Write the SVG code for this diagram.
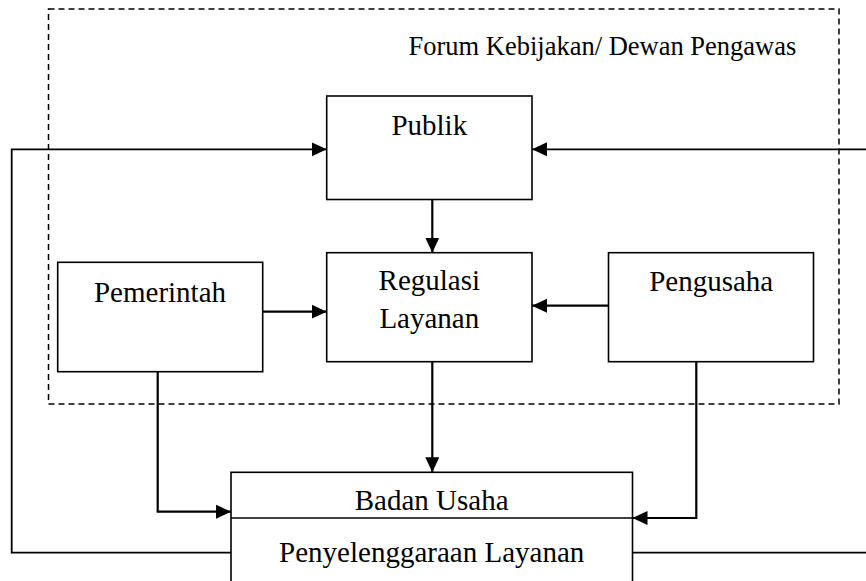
<svg xmlns="http://www.w3.org/2000/svg" width="866" height="581" viewBox="0 0 866 581">
<style>
.box{fill:#fff;stroke:#000;stroke-width:1.6}
.t{font-family:"Liberation Serif","Times New Roman",serif;font-size:29px;fill:#000;text-anchor:middle}
.conn{fill:none;stroke:#000;stroke-width:2.2}
.fb{fill:none;stroke:#000;stroke-width:1.8}
</style>
<defs>
<marker id="ah" markerUnits="userSpaceOnUse" markerWidth="16" markerHeight="16" viewBox="0 0 16 16" refX="15" refY="8" orient="auto">
<path d="M0,1 L15,8 L0,15 Z" fill="#000"/>
</marker>
</defs>
<rect width="866" height="581" fill="#fff"/>
<g id="forum">
<rect x="48.5" y="9" width="790.5" height="395" fill="none" stroke="#000" stroke-width="1.5" stroke-dasharray="6,4"/>
<text x="408.5" y="55" style="font-family:'Liberation Serif','Times New Roman',serif;font-size:26.5px;fill:#000">Forum Kebijakan/ Dewan Pengawas</text>
</g>
<g id="connectors">
<path class="conn" d="M432.3,199.5 V252.7" marker-end="url(#ah)"/>
<path class="conn" d="M262.7,311.7 H326.7" marker-end="url(#ah)"/>
<path class="conn" d="M608.5,305.7 H532" marker-end="url(#ah)"/>
<path class="conn" d="M432.3,361.7 V472.3" marker-end="url(#ah)"/>
<path class="conn" d="M157.7,371.7 V511.7 H231" marker-end="url(#ah)"/>
<path class="conn" d="M696.3,361.7 V518 H632.5" marker-end="url(#ah)"/>
<path class="fb" d="M231,552.7 H11.7 V149.3 H326.7" marker-end="url(#ah)"/>
<path class="fb" d="M866,149.3 H532" marker-end="url(#ah)"/>
<path class="fb" d="M632.5,552.7 H866"/>
</g>
<g id="publik">
<rect class="box" x="326.7" y="96" width="205.3" height="103.5"/>
<text class="t" x="429.3" y="135">Publik</text>
</g>
<g id="pemerintah">
<rect class="box" x="57.7" y="262.3" width="205" height="109.4"/>
<text class="t" x="160" y="302.3">Pemerintah</text>
</g>
<g id="regulasi">
<rect class="box" x="326.7" y="252.7" width="205.3" height="109"/>
<text class="t" x="429.3" y="290">Regulasi</text>
<text class="t" x="429.3" y="328.3">Layanan</text>
</g>
<g id="pengusaha">
<rect class="box" x="608.5" y="252.7" width="205" height="109"/>
<text class="t" x="711.2" y="290.7">Pengusaha</text>
</g>
<g id="badan">
<rect class="box" x="231" y="472.3" width="401.5" height="130"/>
<line x1="231" y1="518" x2="632.5" y2="518" stroke="#000" stroke-width="1.6"/>
<text class="t" x="431.7" y="510">Badan Usaha</text>
<text class="t" x="431.7" y="561.7">Penyelenggaraan Layanan</text>
</g>
</svg>
